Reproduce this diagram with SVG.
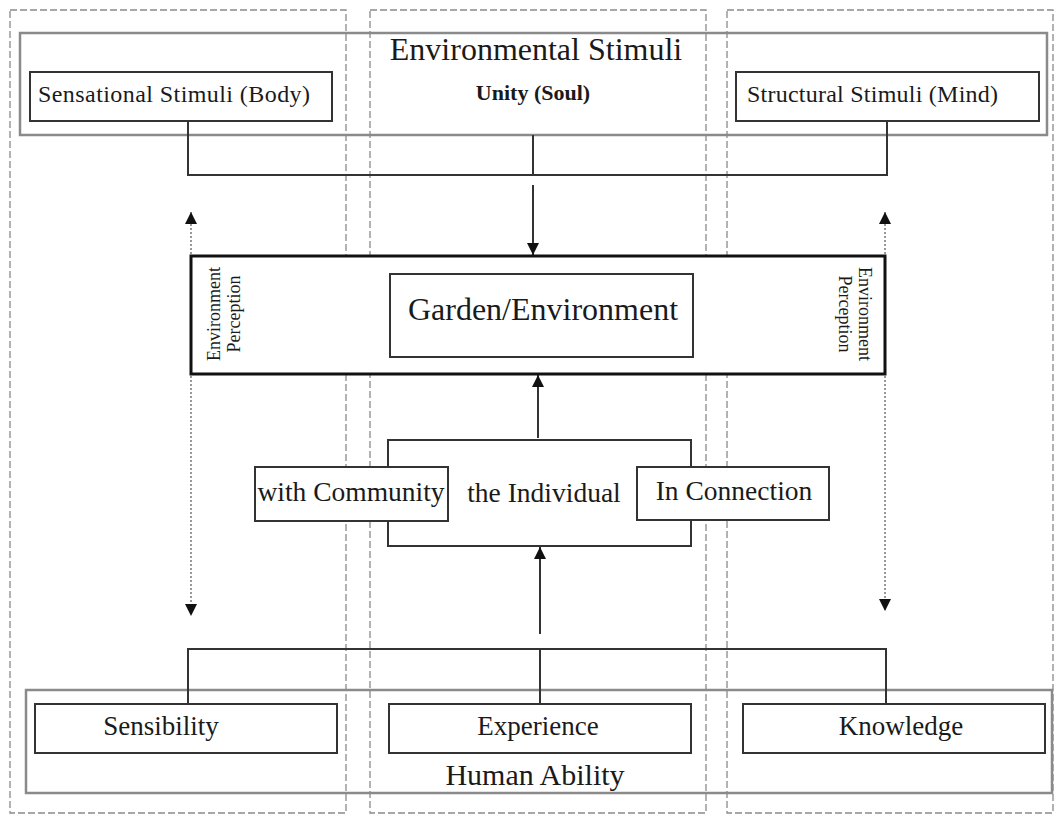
<svg xmlns="http://www.w3.org/2000/svg" width="1057" height="815" viewBox="0 0 1057 815">
<style>
text{font-family:"Liberation Serif","Times New Roman",serif;fill:#1a1a1a}
.col{fill:none;stroke:#8a8a8a;stroke-width:1.3;stroke-dasharray:7 3}
.grp{fill:none;stroke:#8a8a8a;stroke-width:2.5}
.box{fill:#fff;stroke:#333;stroke-width:2}
.big{fill:#fff;stroke:#111;stroke-width:3}
.ln{fill:none;stroke:#333;stroke-width:2}
.dot{fill:none;stroke:#555;stroke-width:1.2;stroke-dasharray:2 2}
</style>
<defs>
<marker id="ah" viewBox="0 0 10 10" refX="10" refY="5" markerWidth="6" markerHeight="6" markerUnits="strokeWidth" orient="auto">
<path d="M0,0 L10,5 L0,10 Z" fill="#111"/>
</marker>
<marker id="ahs" viewBox="0 0 10 10" refX="10" refY="5" markerWidth="10" markerHeight="10" markerUnits="strokeWidth" orient="auto-start-reverse">
<path d="M0,0 L10,5 L0,10 Z" fill="#111"/>
</marker>
</defs>
<rect width="1057" height="815" fill="#fff"/>
<g id="columns">
<rect class="col" x="10" y="10" width="336" height="803"/>
<rect class="col" x="370" y="10" width="336" height="803"/>
<rect class="col" x="727" y="10" width="326" height="803"/>
</g>
<g id="env-stimuli">
<rect class="grp" x="20" y="33" width="1027" height="102"/>
<text x="536" y="60" font-size="32" text-anchor="middle">Environmental Stimuli</text>
</g>
<g id="unity">
<text x="533" y="100" font-size="22" font-weight="bold" text-anchor="middle">Unity (Soul)</text>
</g>
<g id="sensational">
<rect class="box" x="30" y="72" width="302" height="49"/>
<text x="38" y="102" font-size="24" textLength="272" lengthAdjust="spacing">Sensational Stimuli (Body)</text>
</g>
<g id="structural">
<rect class="box" x="736" y="72" width="303" height="49"/>
<text x="747" y="102" font-size="24" textLength="251" lengthAdjust="spacing">Structural Stimuli (Mind)</text>
</g>
<g id="human-ability">
<rect class="grp" x="26" y="690" width="1026" height="103"/>
<text x="535" y="785" font-size="30" text-anchor="middle">Human Ability</text>
</g>
<g id="connectors">
<path class="ln" d="M188,121 V175 H887 V121 M533,135 V175"/>
<path class="ln" d="M533,185 V255" marker-end="url(#ah)"/>
<path class="ln" d="M538,438 V375" marker-end="url(#ah)"/>
<path class="ln" d="M540,634 V547" marker-end="url(#ah)"/>
<path class="ln" d="M188,704 V649 H886 V704 M540,649 V704"/>
<path class="dot" d="M191,212 V616" marker-start="url(#ahs)" marker-end="url(#ahs)"/>
<path class="dot" d="M885,212 V611" marker-start="url(#ahs)" marker-end="url(#ahs)"/>
</g>
<g id="env-perception">
<rect class="big" x="191" y="256" width="694" height="118"/>
<text transform="translate(220,314) rotate(-90)" font-size="18" text-anchor="middle">Environment</text>
<text transform="translate(240,314) rotate(-90)" font-size="18" text-anchor="middle">Perception</text>
<text transform="translate(859,314) rotate(90)" font-size="18" text-anchor="middle">Environment</text>
<text transform="translate(839,314) rotate(90)" font-size="18" text-anchor="middle">Perception</text>
</g>
<g id="garden">
<rect class="box" x="390" y="274" width="303" height="83"/>
<text x="543" y="320" font-size="32" text-anchor="middle">Garden/Environment</text>
</g>
<g id="individual">
<rect class="ln" x="388" y="440" width="303" height="106"/>
<text x="544" y="502" font-size="27.5" text-anchor="middle">the Individual</text>
</g>
<g id="community">
<rect class="box" x="255" y="467" width="193" height="54"/>
<text x="351" y="501" font-size="27.5" text-anchor="middle">with Community</text>
</g>
<g id="connection">
<rect class="box" x="637" y="467" width="192" height="53"/>
<text x="734" y="500" font-size="27.5" text-anchor="middle">In Connection</text>
</g>
<g id="sensibility">
<rect class="box" x="35" y="704" width="302" height="49"/>
<text x="161" y="735" font-size="27" text-anchor="middle">Sensibility</text>
</g>
<g id="experience">
<rect class="box" x="389" y="704" width="302" height="49"/>
<text x="538" y="735" font-size="27" text-anchor="middle">Experience</text>
</g>
<g id="knowledge">
<rect class="box" x="743" y="704" width="302" height="49"/>
<text x="901" y="735" font-size="27" text-anchor="middle">Knowledge</text>
</g>
</svg>
